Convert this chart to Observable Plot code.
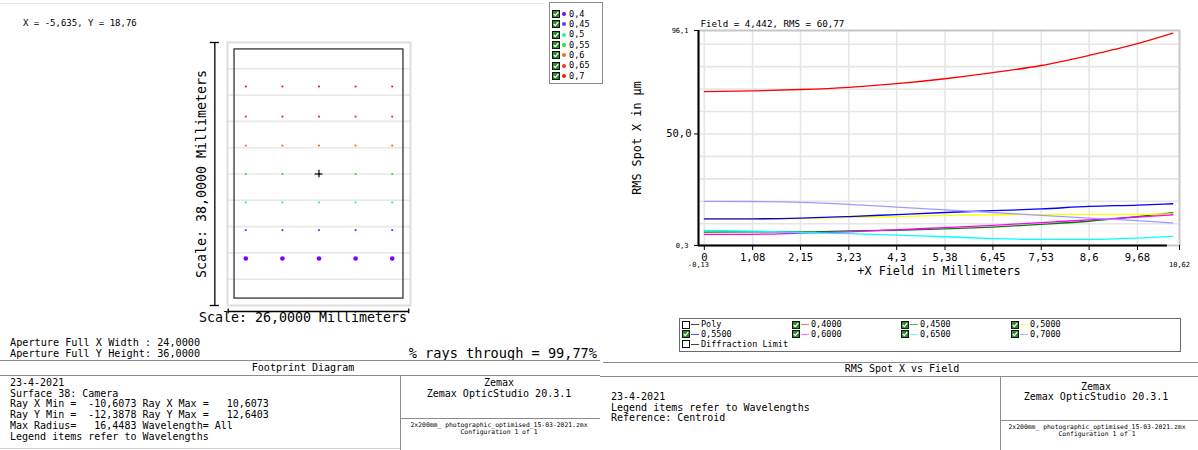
<!DOCTYPE html>
<html><head><meta charset="utf-8">
<script src="https://cdn.jsdelivr.net/npm/d3@7"></script>
<script src="https://cdn.jsdelivr.net/npm/@observablehq/plot@0.6"></script>
<style>
html,body{margin:0;padding:0;background:#fff;}
#root{position:relative;width:1198px;height:450px;overflow:hidden;background:#fff;font-family:"DejaVu Sans Mono",monospace;color:#000;}
.t{position:absolute;white-space:pre;line-height:1;font-family:"DejaVu Sans Mono",monospace;color:#000;}
.hl{position:absolute;height:0;border-top:1px solid #8c8c8c;}
.vl{position:absolute;width:0;border-left:1px solid #8c8c8c;}
.box{position:absolute;border:1px solid #6a6a6a;background:#fff;}
</style></head><body><div id="root"></div>
<script>
// ================= DATA =================
// --- Footprint diagram (left) ---
const cursorText = "X = -5,635, Y = 18,76";
const fpWavelengths = ["0,4", "0,45", "0,5", "0,55", "0,6", "0,65", "0,7"];
const fpColors = ["#7f00ff", "#5a3cff", "#2ef0b8", "#22e622", "#ff6a1a", "#ff2a2a", "#ff1414"];
const fpRowY = [-12.2, -8.1, -4.1, 0, 4.1, 8.3, 12.64];   // mm, one row per wavelength
const fpColX = [-10.4, -5.2, 0, 5.2, 10.4];                // mm
const apertureW = 24, apertureH = 36;                      // mm
const scaleW = 26, scaleH = 38;                            // mm
const scaleXLabel = "Scale: 26,0000 Millimeters";
const scaleYLabel = "Scale: 38,0000 Millimeters";
const apertureLines = ["Aperture Full X Width : 24,0000", "Aperture Full Y Height: 36,0000"];
const raysThrough = "% rays through = 99,77%";
const fpTitle = "Footprint Diagram";
const fpInfoLines = [
  "23-4-2021",
  "Surface 38: Camera",
  "Ray X Min =  -10,6073 Ray X Max =   10,6073",
  "Ray Y Min =  -12,3878 Ray Y Max =   12,6403",
  "Max Radius=   16,4483 Wavelength= All",
  "Legend items refer to Wavelengths"
];
const zemaxLines = ["Zemax", "Zemax OpticStudio 20.3.1"];
const fileLines = ["2x200mm_ photographic_optimised_15-03-2021.zmx", "Configuration 1 of 1"];

// --- RMS Spot X vs Field (right) ---
const rmsHeader = "Field = 4,442, RMS = 60,77";
const rmsField = [0, 1.08, 2.15, 3.23, 4.3, 5.38, 6.45, 7.53, 8.6, 9.68, 10.47];
const rms0400 = [68.9, 69.2, 69.8, 70.8, 72.4, 74.6, 77.3, 80.5, 85.0, 90.2, 94.9];
const rms0450 = [6.3, 6.4, 6.4, 6.8, 7.1, 7.7, 8.5, 9.7, 11.1, 13.2, 14.9];
const rms0500 = [11.9, 11.95, 12.3, 12.8, 13.2, 13.7, 14.0, 14.1, 14.2, 14.2, 14.4];
const rms0550 = [12.2, 12.2, 12.5, 13.2, 14.1, 15.0, 15.8, 16.6, 17.7, 18.3, 18.9];
const rms0600 = [5.3, 5.3, 5.8, 6.4, 7.3, 8.3, 9.3, 10.5, 11.7, 12.9, 14.0];
const rms0650 = [7.0, 6.7, 6.1, 5.6, 4.9, 4.2, 3.4, 3.0, 3.0, 3.6, 4.4];
const rms0700 = [20.0, 19.9, 19.5, 18.6, 17.4, 16.2, 15.0, 13.7, 12.5, 11.4, 10.4];
const rmsWavelengths = ["0,4000", "0,4500", "0,5000", "0,5500", "0,6000", "0,6500", "0,7000"];
const rmsColors = ["#ff0000", "#008000", "#ffff00", "#0000ff", "#ff00ff", "#00ffff", "#9c9cff"];
const rmsSeries = [rms0400, rms0450, rms0500, rms0550, rms0600, rms0650, rms0700];
const xTickValues = [0, 1.08, 2.15, 3.23, 4.3, 5.38, 6.45, 7.53, 8.6, 9.68];
const xDomain = [-0.13, 10.62];
const yDomain = [0.3, 96.1];
const yGridValues = [10, 20, 30, 40, 50, 60, 70, 80, 90];
const yLabelValue = 50;
const xAxisLabel = "+X Field in Millimeters";
const yAxisLabel = "RMS Spot X in µm";
const legendItems = [
  {label: "Poly", color: "#444", on: false},
  {label: "0,4000", color: "#ff7070", on: true},
  {label: "0,4500", color: "#60b060", on: true},
  {label: "0,5000", color: "#ffff60", on: true},
  {label: "0,5500", color: "#5050ff", on: true},
  {label: "0,6000", color: "#ff70ff", on: true},
  {label: "0,6500", color: "#70ffff", on: true},
  {label: "0,7000", color: "#b0b0ff", on: true},
  {label: "Diffraction Limit", color: "#444", on: false}
];
const rmsTitle = "RMS Spot X vs Field";
const rmsInfoLines = ["23-4-2021", "Legend items refer to Wavelengths", "Reference: Centroid"];

const fmt = d => String(d).replace(".", ",");

// ================= LAYOUT HELPERS =================
const root = document.getElementById("root");
function T(x, yc, s, fs, anchor = "start", extra = {}) {
  const d = document.createElement("div");
  d.className = "t";
  d.textContent = s;
  d.style.fontSize = fs + "px";
  d.style.top = (yc - fs / 2) + "px";
  if (anchor === "start") d.style.left = x + "px";
  else if (anchor === "middle") { d.style.left = x + "px"; d.style.transform = "translateX(-50%)"; }
  else d.style.right = (1198 - x) + "px";
  Object.assign(d.style, extra);
  root.appendChild(d);
  return d;
}
function H(x, y, w, color) { const d = document.createElement("div"); d.className = "hl"; Object.assign(d.style, {left: x + "px", top: y + "px", width: w + "px"}); if (color) d.style.borderTopColor = color; root.appendChild(d); }
function V(x, y, h, color) { const d = document.createElement("div"); d.className = "vl"; Object.assign(d.style, {left: x + "px", top: y + "px", height: h + "px"}); if (color) d.style.borderLeftColor = color; root.appendChild(d); }
function checkbox(on) {
  return `<svg width="8" height="8" viewBox="0 0 8 8" style="position:absolute;left:0;top:0">
    <rect x="0.5" y="0.5" width="7" height="7" fill="${on ? '#2f8a2f' : '#fff'}" stroke="#111"/>
    ${on ? '<path d="M1.7 3.9 L3.3 5.6 L6.3 2.1" stroke="#fff" stroke-width="1.3" fill="none"/>' : ''}
  </svg>`;
}
function place(el, x, y) { el.style.position = "absolute"; el.style.left = x + "px"; el.style.top = y + "px"; root.appendChild(el); return el; }

// faint toolbar remnant at top-left
H(0, 3, 545, "#e6e6e6");

// ================= FOOTPRINT PLOT =================
const fpDots = fpWavelengths.flatMap((w, i) => fpColX.map(x => ({x, y: fpRowY[i], w})));
const fpGridY = d3.range(1, 10).map(k => -scaleH / 2 + k * scaleH / 10);
const fp = Plot.plot({
  width: 600, height: 330,
  marginLeft: 227, marginRight: 190, marginTop: 42, marginBottom: 25,
  x: {domain: [-scaleW / 2, scaleW / 2], axis: null},
  y: {domain: [-scaleH / 2, scaleH / 2], axis: null},
  color: {domain: fpWavelengths, range: fpColors},
  style: {fontFamily: "DejaVu Sans Mono", background: "transparent", color: "#000", overflow: "visible"},
  marks: [
    Plot.ruleY(fpGridY, {stroke: "#e8e8e8", strokeWidth: 1.6}),
    Plot.frame({stroke: "#dedede", strokeWidth: 2}),
    Plot.rect([{x1: -apertureW / 2, x2: apertureW / 2, y1: -apertureH / 2, y2: apertureH / 2}],
      {x1: "x1", x2: "x2", y1: "y1", y2: "y2", fill: "none", stroke: "#333", strokeWidth: 1.3}),
    Plot.dot(fpDots.filter(d => d.w !== fpWavelengths[0]), {x: "x", y: "y", fill: "w", r: 1.1}),
    Plot.dot(fpDots.filter(d => d.w === fpWavelengths[0]), {x: "x", y: "y", fill: "w", r: 2.3}),
    // chief-ray cross
    Plot.ruleX([0], {y1: -0.55, y2: 0.55, stroke: "#000", strokeWidth: 1.2}),
    Plot.ruleY([0], {x1: -0.55, x2: 0.55, stroke: "#000", strokeWidth: 1.2}),
    // scale bars
    Plot.ruleX([-scaleW / 2 - 1.8], {y1: -scaleH / 2, y2: scaleH / 2, stroke: "#000", strokeWidth: 1.3}),
    Plot.ruleY([-scaleH / 2, scaleH / 2], {x1: -scaleW / 2 - 2.45, x2: -scaleW / 2 - 1.15, stroke: "#000", strokeWidth: 1.3}),
    Plot.ruleY([-scaleH / 2 - 0.87], {x1: -scaleW / 2 + 0.1, x2: scaleW / 2 - 0.25, stroke: "#000", strokeWidth: 1.3}),
    Plot.ruleX([-scaleW / 2 + 0.1, scaleW / 2 - 0.25], {y1: -scaleH / 2 - 1.2, y2: -scaleH / 2 - 0.5, stroke: "#000", strokeWidth: 1.3}),
    Plot.text([scaleYLabel], {text: d => d, frameAnchor: "left", textAnchor: "middle", dx: -26, rotate: -90, fontSize: 13.3, fill: "#000"}),
    Plot.text([scaleXLabel], {text: d => d, frameAnchor: "bottom", textAnchor: "middle", dx: -16, dy: 16, fontSize: 13.3, fill: "#000"})
  ]
});
place(fp, 0, 0);

T(23, 23, cursorText, 9);

// left legend
const lg = document.createElement("div");
lg.className = "box";
Object.assign(lg.style, {left: "549px", top: "2px", width: "52px", height: "80px", borderColor: "#8a8a8a"});
root.appendChild(lg);
fpWavelengths.forEach((w, i) => {
  const yc = 14 + i * 10.3;
  const c = document.createElement("div");
  c.style.cssText = `position:absolute;left:552px;top:${yc - 4}px;width:8px;height:8px`;
  c.innerHTML = checkbox(true);
  root.appendChild(c);
  const dot = document.createElement("div");
  dot.style.cssText = `position:absolute;left:${564 - 2}px;top:${yc - 2}px;width:4px;height:4px;border-radius:50%;background:${fpColors[i]}`;
  root.appendChild(dot);
  T(569, yc, w, 8.6);
});

// bottom-left text block
apertureLines.forEach((s, i) => T(10, 343.5 + i * 11, s, 10.2));
T(597, 354, raysThrough, 13.6, "end");
H(0, 360, 600);
T(303, 367.5, fpTitle, 10, "middle");
H(0, 375, 600);
V(400, 375, 75);
fpInfoLines.forEach((s, i) => T(10, 383 + i * 10.7, s, 10));
zemaxLines.forEach((s, i) => T(499, 383 + i * 10.5, s, 10, "middle"));
H(400, 418, 200);
fileLines.forEach((s, i) => T(499, 425 + i * 7, s, 6.4, "middle"));
H(0, 448, 400, "#cfcfcf");

// ================= RMS PLOT =================
const rows = rmsWavelengths.flatMap((w, i) => rmsField.map((x, j) => ({x, v: rmsSeries[i][j], w})));
const rms = Plot.plot({
  width: 598, height: 300,
  marginLeft: 98, marginRight: 19, marginTop: 30, marginBottom: 55,
  x: {domain: xDomain, label: null},
  y: {domain: yDomain, label: null},
  color: {domain: rmsWavelengths, range: rmsColors},
  style: {fontFamily: "DejaVu Sans Mono", fontSize: "10.5px", background: "transparent", color: "#000", overflow: "visible"},
  marks: [
    Plot.ruleY(yGridValues, {stroke: "#e6e6e6", strokeWidth: 1.6}),
    Plot.ruleX(xTickValues, {stroke: "#e6e6e6", strokeWidth: 1.6}),
    Plot.frame({stroke: "#c6c6c6", strokeWidth: 2}),
    Plot.axisX([...xTickValues, xDomain[1]], {tickSize: 5, tickPadding: 3, label: null,
      tickFormat: d => d === xDomain[1] ? "" : fmt(d), fontSize: 10.5}),
    Plot.axisY([yDomain[0], yLabelValue, yDomain[1]], {tickSize: 4, label: null, tickFormat: () => ""}),
    Plot.text([yLabelValue], {x: xDomain[0], y: d => d, text: d => fmt(d.toFixed(1)), textAnchor: "end", dx: -7, fontSize: 10.5, fill: "#000"}),
    Plot.text(yDomain, {x: xDomain[0], y: d => d, text: d => fmt(d), textAnchor: "end", dx: -10, fontSize: 7, fill: "#000"}),
    Plot.text(xDomain, {x: d => d, y: yDomain[0], text: d => fmt(d), dy: 19, fontSize: 7, fill: "#000"}),
    Plot.line(rows, {x: "x", y: "v", z: "w", stroke: "w", strokeWidth: 1.3, curve: "monotone-x"}),
    Plot.ruleX([xDomain[0]], {y1: yDomain[0], y2: yDomain[1], stroke: "#000", strokeWidth: 2}),
    Plot.ruleY([yDomain[0]], {x1: xDomain[0], x2: 10.35, stroke: "#000", strokeWidth: 2}),
    Plot.text([rmsHeader], {text: d => d, frameAnchor: "top-left", textAnchor: "start", dx: 2, dy: -10, fontSize: 9.2, fill: "#000"}),
    Plot.text([xAxisLabel], {text: d => d, frameAnchor: "bottom", textAnchor: "middle", dy: 29, fontSize: 11.8, fill: "#000"}),
    Plot.text([yAxisLabel], {text: d => d, frameAnchor: "left", textAnchor: "middle", dx: -61, rotate: -90, fontSize: 11.8, fill: "#000"})
  ]
});
place(rms, 600, 0);

// right legend
const rl = document.createElement("div");
rl.className = "box";
Object.assign(rl.style, {left: "679px", top: "318px", width: "500px", height: "32px"});
root.appendChild(rl);
const colX = [682, 792, 901, 1011];
legendItems.forEach((it, i) => {
  const col = i % 4, row = Math.floor(i / 4);
  const x = colX[col], yc = 324.5 + row * 9.9;
  const c = document.createElement("div");
  c.style.cssText = `position:absolute;left:${x}px;top:${yc - 4}px;width:8px;height:8px`;
  c.innerHTML = checkbox(it.on);
  root.appendChild(c);
  const ln = document.createElement("div");
  ln.style.cssText = `position:absolute;left:${x + 9}px;top:${yc - 0.75}px;width:8px;height:1.5px;background:${it.color}`;
  root.appendChild(ln);
  T(x + 19, yc, it.label, 8.5);
});

// bottom-right text block
H(603, 362, 595);
T(902, 369, rmsTitle, 10, "middle");
H(600, 376, 598);
V(1000, 376, 74);
rmsInfoLines.forEach((s, i) => T(611, 397 + i * 10.6, s, 10));
zemaxLines.forEach((s, i) => T(1096, 386.5 + i * 10.5, s, 10, "middle"));
H(1000, 420, 198);
fileLines.forEach((s, i) => T(1097, 427.5 + i * 6.8, s, 6.4, "middle"));
</script></body></html>
